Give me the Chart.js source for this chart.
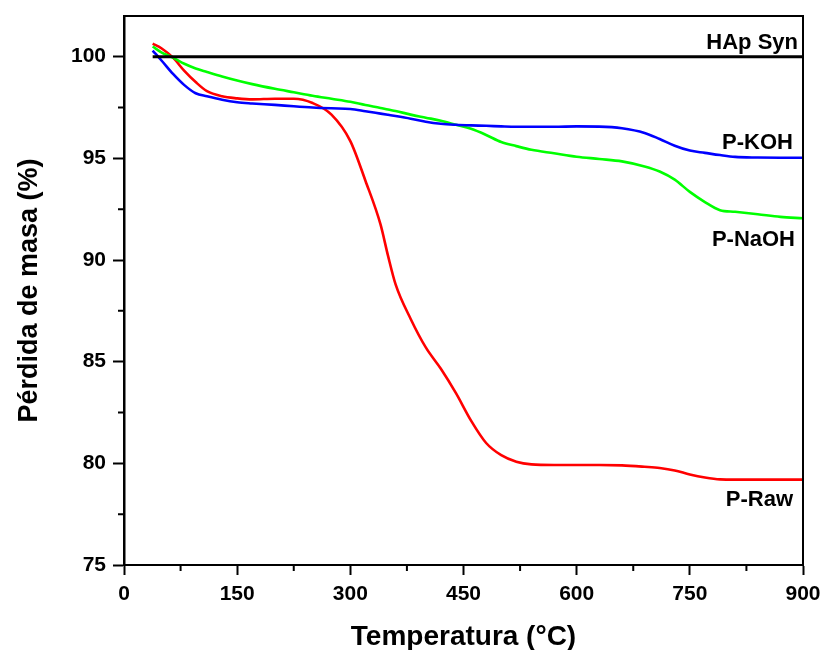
<!DOCTYPE html>
<html>
<head>
<meta charset="utf-8">
<script src="https://cdn.jsdelivr.net/npm/chart.js@4.4.1/dist/chart.umd.min.js"></script>
<style>
  html, body { margin: 0; padding: 0; background: #fff; }
  #wrap { width: 824px; height: 650px; position: relative; }
</style>
</head>
<body>
<div id="wrap"><canvas id="tga"></canvas></div>
<script>
// Temperature grid (°C) shared by the TGA curves
const temperature = [38, 50, 65, 80, 95, 110, 130, 150, 170, 200, 225, 250, 275, 300, 320, 340, 350, 360, 380, 400, 420,
  440, 460, 480, 500, 520, 540, 570, 600, 630, 660, 690, 710, 730, 750, 770, 790, 810, 840, 870, 900];

// Remaining mass (%) for each sample
const hapSyn = [100, 100, 100, 100, 100, 100, 100, 100, 100, 100, 100, 100, 100, 100, 100, 100, 100, 100, 100, 100, 100,
  100, 100, 100, 100, 100, 100, 100, 100, 100, 100, 100, 100, 100, 100, 100, 100, 100, 100, 100, 100];
const pKOH = [100.3, 99.8, 99.15, 98.6, 98.2, 98.05, 97.88, 97.76, 97.7, 97.63, 97.56, 97.5, 97.46, 97.43, 97.32, 97.2, 97.14, 97.08, 96.95, 96.8, 96.7,
  96.65, 96.62, 96.6, 96.57, 96.55, 96.55, 96.55, 96.57, 96.56, 96.48, 96.25, 95.95, 95.62, 95.38, 95.27, 95.16, 95.07, 95.04, 95.03, 95.03];
const pNaOH = [100.5, 100.2, 99.95, 99.65, 99.42, 99.25, 99.03, 98.83, 98.65, 98.42, 98.25, 98.08, 97.93, 97.78, 97.62, 97.48, 97.4, 97.33, 97.15, 97.0, 96.85,
  96.65, 96.45, 96.15, 95.8, 95.6, 95.42, 95.25, 95.08, 94.97, 94.85, 94.6, 94.35, 93.95, 93.35, 92.85, 92.45, 92.37, 92.25, 92.12, 92.05];
const pRaw = [100.64, 100.4, 99.95, 99.3, 98.75, 98.3, 98.05, 97.95, 97.9, 97.93, 97.93, 97.72, 97.15, 95.85, 93.9, 91.75, 90.2, 88.8, 87.1, 85.7, 84.65,
  83.45, 82.1, 81.0, 80.4, 80.08, 79.95, 79.92, 79.92, 79.92, 79.9, 79.83, 79.77, 79.65, 79.45, 79.3, 79.21, 79.2, 79.2, 79.2, 79.2];

// Axis ticks
const xMajor = [0, 150, 300, 450, 600, 750, 900];
const xMinor = [75, 225, 375, 525, 675, 825];
const yMajor = [75, 80, 85, 90, 95, 100];
const yMinor = [77.5, 82.5, 87.5, 92.5, 97.5];

const seriesNames = ['HAp Syn', 'P-KOH', 'P-NaOH', 'P-Raw'];
const seriesValues = [hapSyn, pKOH, pNaOH, pRaw];
const seriesColors = ['#000000', '#0000ff', '#00ff00', '#ff0000'];
// placement of each end label relative to the curve's last point, px
const labelDx = [-5, -10, -8, -10];
const labelDy = [-8, -9, 28, 26];

const FONT = '"Liberation Sans", Arial, sans-serif';

const datasets = seriesNames.map((name, i) => ({
  label: name,
  data: temperature.map((t, j) => ({ x: t, y: seriesValues[i][j] })),
  borderColor: seriesColors[i],
  borderWidth: i === 0 ? 3 : 2.6,
  pointRadius: 0,
  fill: false,
  cubicInterpolationMode: 'monotone'
}));

// Frame, minor ticks and the curve names at the right end
const decorations = {
  id: 'decorations',
  afterDraw(chart) {
    const { ctx, chartArea: a, scales: { x, y } } = chart;
    ctx.save();
    ctx.strokeStyle = '#000';
    ctx.lineWidth = 2;
    ctx.beginPath();
    ctx.moveTo(a.left, a.top);
    ctx.lineTo(a.right, a.top);
    ctx.lineTo(a.right, a.bottom);
    ctx.stroke();

    ctx.beginPath();
    xMinor.forEach(v => {
      const px = x.getPixelForValue(v);
      ctx.moveTo(px, a.bottom);
      ctx.lineTo(px, a.bottom + 6);
    });
    yMinor.forEach(v => {
      const py = y.getPixelForValue(v);
      ctx.moveTo(a.left, py);
      ctx.lineTo(a.left - 6, py);
    });
    ctx.stroke();

    ctx.fillStyle = '#000';
    ctx.font = 'bold 22px ' + FONT;
    ctx.textAlign = 'right';
    ctx.textBaseline = 'alphabetic';
    seriesNames.forEach((name, i) => {
      const vals = seriesValues[i];
      const px = x.getPixelForValue(temperature[temperature.length - 1]) + labelDx[i];
      const py = y.getPixelForValue(vals[vals.length - 1]) + labelDy[i];
      ctx.fillText(name, px, py);
    });
    ctx.restore();
  }
};

new Chart(document.getElementById('tga'), {
  type: 'line',
  data: { datasets },
  plugins: [decorations],
  options: {
    responsive: true,
    maintainAspectRatio: false,
    animation: false,
    layout: { padding: { top: 16, right: 21, left: 0, bottom: 0 } },
    plugins: { legend: { display: false }, tooltip: { enabled: false } },
    scales: {
      x: {
        type: 'linear',
        min: 0,
        max: 900,
        afterBuildTicks: s => { s.ticks = xMajor.map(v => ({ value: v })); },
        afterFit: s => { s.height = 85; s.paddingLeft = 0; s.paddingRight = 0; },
        grid: { drawOnChartArea: false, drawTicks: true, tickLength: 10, tickWidth: 2, tickColor: '#000' },
        border: { display: true, color: '#000', width: 2 },
        ticks: { color: '#000', font: { family: FONT, size: 21, weight: 'bold' }, padding: 7, maxRotation: 0 },
        title: { display: true, text: 'Temperatura (°C)', color: '#000', font: { family: FONT, size: 28, weight: 'bold' }, padding: { top: 0, bottom: -4 } }
      },
      y: {
        type: 'linear',
        min: 75,
        max: 102,
        afterBuildTicks: s => { s.ticks = yMajor.map(v => ({ value: v })); },
        afterFit: s => { s.width = 124; s.paddingTop = 0; s.paddingBottom = 0; },
        grid: { drawOnChartArea: false, drawTicks: true, tickLength: 11, tickWidth: 2, tickColor: '#000' },
        border: { display: true, color: '#000', width: 2.5 },
        ticks: { color: '#000', font: { family: FONT, size: 21, weight: 'bold' }, padding: 7 },
        title: { display: true, text: 'Pérdida de masa (%)', color: '#000', font: { family: FONT, size: 27, weight: 'bold' }, padding: { top: 13, bottom: 0 } }
      }
    }
  }
});
</script>
</body>
</html>
